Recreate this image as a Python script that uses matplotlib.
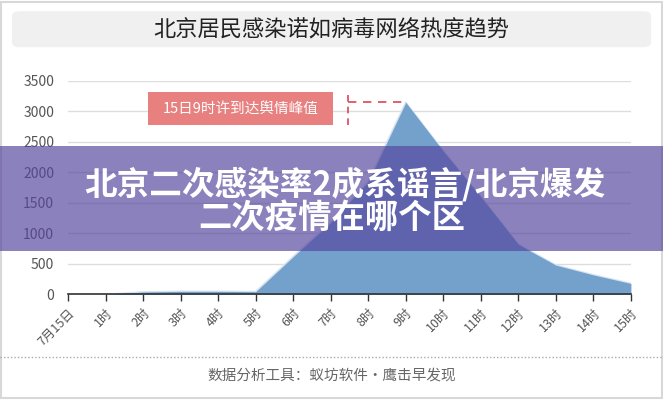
import matplotlib.pyplot as plt
from matplotlib.patches import FancyBboxPatch, Rectangle

plt.rcParams['font.family'] = ['Noto Sans CJK SC', 'DejaVu Sans']

# data
hours = ['7月15日', '1时', '2时', '3时', '4时', '5时', '6时', '7时', '8时',
         '9时', '10时', '11时', '12时', '13时', '14时', '15时']
heat = [0, 0, 40, 50, 50, 45, 620, 1180, 1850, 3150, 2350, 1600, 820, 480, 320, 180]
y_ticks = [0, 500, 1000, 1500, 2000, 2500, 3000, 3500]

title = '北京居民感染诺如病毒网络热度趋势'
note = '15日9时许到达舆情峰值'
banner = ['北京二次感染率2成系谣言/北京爆发', '二次疫情在哪个区']
footer = '数据分析工具：蚁坊软件·鹰击早发现'

fig = plt.figure(figsize=(6.63, 4.0), dpi=100)
fig.patch.set_facecolor('white')

# outer frame
fig.add_artist(Rectangle((0.002, 0.004), 0.996, 0.992, transform=fig.transFigure,
                         fill=False, edgecolor='#d8d8d8', linewidth=1.5))

# title box
fig.add_artist(FancyBboxPatch((0.018, 0.882), 0.964, 0.09, transform=fig.transFigure,
                              boxstyle='round,pad=0,rounding_size=0.012',
                              facecolor='#f0f0f0', edgecolor='none'))
fig.text(0.5, 0.926, title, ha='center', va='center', fontsize=16, color='#222222')

ax = fig.add_axes([0.1026, 0.264, 0.849, 0.5335])
x = list(range(len(hours)))
ax.fill_between(x, heat, 0, color='#74a0cc', linewidth=0, zorder=2)
ax.plot(x, heat, color='#d6e4f2', linewidth=1.2, zorder=1)

ax.set_xlim(0, len(hours) - 1)
ax.set_ylim(0, 3500)
ax.set_yticks(y_ticks)
ax.set_yticklabels([str(v) for v in y_ticks], fontsize=10, color='#555555')
ax.tick_params(axis='y', length=0, pad=10)
ax.grid(axis='y', color='#dddddd', linewidth=1, zorder=0)
ax.set_axisbelow(True)

ax.set_xticks(x)
ax.set_xticklabels(hours, rotation=45, ha='right', rotation_mode='anchor',
                   fontsize=9, color='#555555')
ax.tick_params(axis='x', length=5, width=1, color='#333333', pad=4)

for s in ['top', 'right', 'left']:
    ax.spines[s].set_visible(False)
ax.spines['bottom'].set_color('#333333')
ax.spines['bottom'].set_linewidth(1.2)

# peak note
ax.add_patch(Rectangle((2.12, 2785), 4.95, 530, facecolor='#e88080',
                       edgecolor='none', zorder=4))
ax.text(4.6, 3050, note, ha='center', va='center', fontsize=10.5,
        color='white', zorder=5)
ax.plot([7.45, 7.45], [2785, 3315], color='#dd4455', linewidth=1.2,
        linestyle=(0, (4, 3)), zorder=4)
ax.plot([7.45, 9.0], [3150, 3150], color='#dd4455', linewidth=1.2,
        linestyle=(0, (5, 4)), zorder=4)

# overlay banner
fig.add_artist(Rectangle((0, 0.372), 1, 0.262, transform=fig.transFigure,
                         facecolor='#55459d', alpha=0.68, edgecolor='none', zorder=10))
fig.text(0.521, 0.54, banner[0], ha='center', va='center', fontsize=23.5,
         fontweight='heavy', color='white', zorder=11)
fig.text(0.5, 0.452, banner[1], ha='center', va='center', fontsize=24,
         fontweight='heavy', color='white', zorder=11)

# footer
fig.add_artist(plt.Line2D([0, 1], [0.108, 0.108], transform=fig.transFigure,
                          color='#aaaaaa', linewidth=1, linestyle=(0, (1, 1.5))))
fig.text(0.5, 0.06, footer, ha='center', va='center', fontsize=10.5, color='#666666')

fig.savefig('out.png', dpi=100)
